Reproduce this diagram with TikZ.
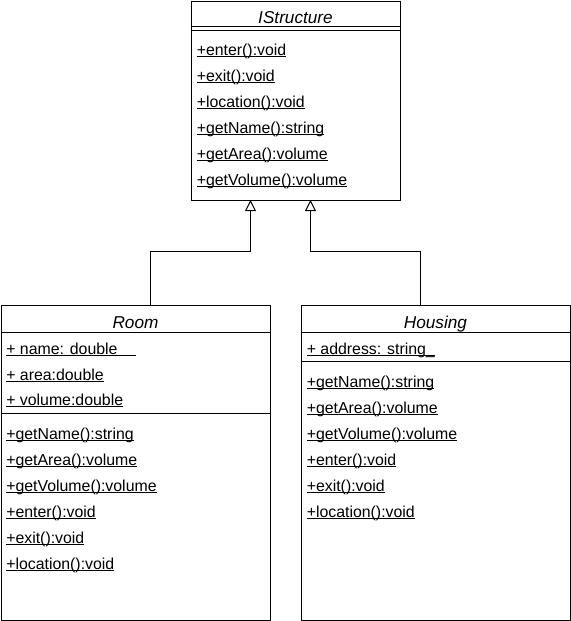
\documentclass[tikz,border=0pt]{standalone}
\usepackage{fontspec}
\setmainfont{Liberation Sans}
\usetikzlibrary{arrows.meta}
\newcommand\ultext[2][0pt]{\sbox0{#2\hspace{#1}}\rlap{\rule[-1.3pt]{\wd0}{0.75pt}}\usebox0}
\tikzset{
  classbox/.style={draw=black, line width=0.75pt, fill=white, anchor=north west, inner sep=0pt},
  sepline/.style={draw=black, line width=0.75pt},
  mem/.style={anchor=base west, inner sep=0pt, font=\fontsize{11.9pt}{13pt}\selectfont},
  ttl/.style={anchor=base, inner sep=0pt, font=\fontsize{12.9pt}{14pt}\selectfont\itshape},
  inherit/.style={draw=black, line width=0.75pt, -{Triangle[open, length=8.25pt, width=8.25pt, line width=0.75pt]}}
}
\begin{document}
\begin{tikzpicture}[x=0.75pt,y=-0.75pt]
\useasboundingbox (0,0) rectangle (571,621);
\fill[white] (0,0) rectangle (571,621);
% boxes
\node[classbox, minimum width=209*0.75pt, minimum height=199*0.75pt] (istr) at (190.5,0.5) {};
\node[classbox, minimum width=269*0.75pt, minimum height=315*0.75pt] (room) at (0.5,305) {};
\node[classbox, minimum width=269*0.75pt, minimum height=315*0.75pt] (hous) at (300.5,305) {};
% separators
\draw[sepline] (190.5,26) -- (399.5,26);
\draw[sepline] (190.5,30) -- (399.5,30);
\draw[sepline] (0.5,332.5) -- (269.5,332.5);
\draw[sepline] (0.5,413) -- (269.5,413);
\draw[sepline] (300.5,332.5) -- (569.5,332.5);
\draw[sepline] (300.5,361) -- (569.5,361);
% titles
\node[ttl] (istrT) at (295.5,23) {IStructure};
\node[ttl] (roomT) at (135.5,328) {Room};
\node[ttl] (housT) at (435.5,328.5) {Housing};
% IStructure members
\node[mem] (i1) at (196.5,55.5) {\ultext{+enter():void}};
\node[mem] (i2) at (196.5,81.5) {\ultext{+exit():void}};
\node[mem] (i3) at (196.5,107.5) {\ultext{+location():void}};
\node[mem] (i4) at (196.5,133.5) {\ultext{+getName():string}};
\node[mem] (i5) at (196.5,159.5) {\ultext{+getArea():volume}};
\node[mem] (i6) at (196.5,185.5) {\ultext{+getVolume():volume}};
% Room members
\node[mem] (ra1) at (6,354) {\ultext[13.5pt]{+ name: double}};
\node[mem] (ra2) at (6,380) {\ultext{+ area:double}};
\node[mem] (ra3) at (6,405.5) {\ultext{+ volume:double}};
\node[mem] (rm1) at (6,439.5) {\ultext{+getName():string}};
\node[mem] (rm2) at (6,465.5) {\ultext{+getArea():volume}};
\node[mem] (rm3) at (6,491.5) {\ultext{+getVolume():volume}};
\node[mem] (rm4) at (6,517.5) {\ultext{+enter():void}};
\node[mem] (rm5) at (6,543.5) {\ultext{+exit():void}};
\node[mem] (rm6) at (6,569.5) {\ultext{+location():void}};
% Housing members
\node[mem] (ha1) at (306.5,354) {\ultext{+ address: string\_}};
\node[mem] (hm1) at (306.5,387.5) {\ultext{+getName():string}};
\node[mem] (hm2) at (306.5,413.5) {\ultext{+getArea():volume}};
\node[mem] (hm3) at (306.5,439.5) {\ultext{+getVolume():volume}};
\node[mem] (hm4) at (306.5,465.5) {\ultext{+enter():void}};
\node[mem] (hm5) at (306.5,491.5) {\ultext{+exit():void}};
\node[mem] (hm6) at (306.5,517.5) {\ultext{+location():void}};
% connectors
\coordinate (roomTop) at (150.5,305);
\coordinate (housTop) at (420.5,305);
\coordinate (istrB1) at (250.5,200);
\coordinate (istrB2) at (310.5,200);
\draw[inherit] (roomTop) -- (150.5,251) -| (istrB1);
\draw[inherit] (housTop) -- (420.5,251) -| (istrB2);
\end{tikzpicture}
\end{document}
